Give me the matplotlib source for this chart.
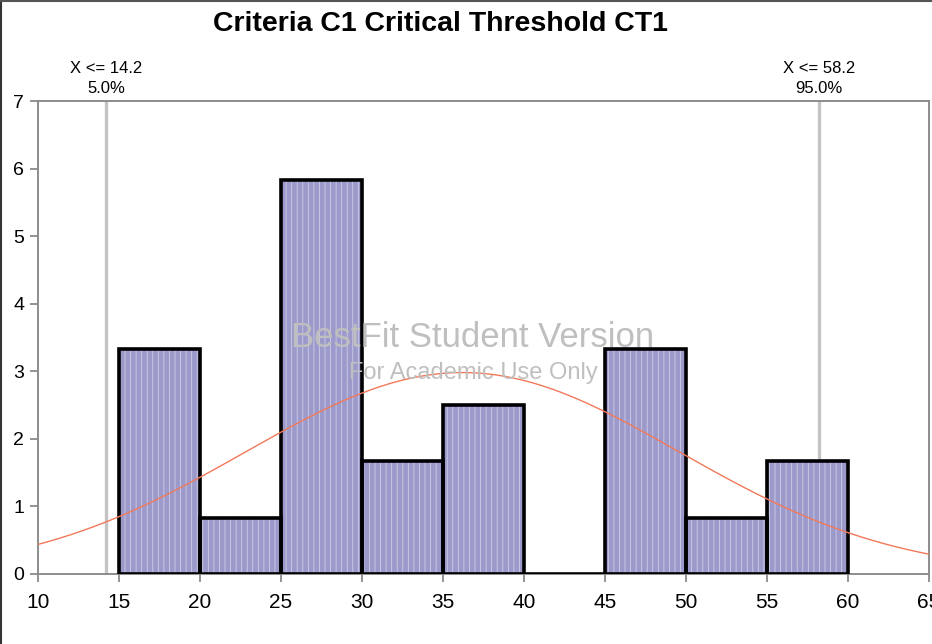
import numpy as np
import matplotlib
matplotlib.use("Agg")
import matplotlib.pyplot as plt
from matplotlib.lines import Line2D

# Histogram data (percent of observations per 5-unit bin)
bin_edges = [15, 20, 25, 30, 35, 40, 45, 50, 55, 60]
bin_heights = [3.33, 0.83, 5.83, 1.67, 2.5, 0.0, 3.33, 0.83, 1.67]

# Critical thresholds from the fitted normal
thresholds = [14.2, 58.2]
threshold_pcts = ["5.0%", "95.0%"]

x_ticks = [10, 15, 20, 25, 30, 35, 40, 45, 50, 55, 60, 65]
y_ticks = [0, 1, 2, 3, 4, 5, 6, 7]

title = "Criteria C1 Critical Threshold CT1"

narrow = ["Liberation Sans Narrow", "Liberation Sans", "DejaVu Sans"]
regular = ["Liberation Sans", "DejaVu Sans"]

plt.rcParams["hatch.linewidth"] = 0.6

fig = plt.figure(figsize=(9.32, 6.44), dpi=100)
ax = fig.add_axes([38 / 932, 1 - 574 / 644, (929 - 38) / 932, (574 - 101) / 644])

lefts = bin_edges[:-1]
widths = np.diff(bin_edges)

# striped fill
ax.bar(lefts, bin_heights, width=widths, align="edge", color="#9c9aca",
       edgecolor="#cfcee8", hatch="|||", linewidth=0, zorder=2)
# outlines
ax.bar(lefts, bin_heights, width=widths, align="edge", fill=False,
       edgecolor="black", linewidth=2.6, zorder=3)

# fitted normal curve (scaled to percent per unit * bin width)
mu = (thresholds[0] + thresholds[1]) / 2
sigma = (thresholds[1] - thresholds[0]) / (2 * 1.6449)
area = sum(bin_heights) * widths[0]
xs = np.linspace(10, 65, 400)
ys = area / (sigma * np.sqrt(2 * np.pi)) * np.exp(-0.5 * ((xs - mu) / sigma) ** 2)
ax.plot(xs, ys, color="#f2795a", linewidth=1.0, zorder=4)

# threshold lines and labels
for t, p in zip(thresholds, threshold_pcts):
    ax.axvline(t, color="#c4c4c4", linewidth=2.4, zorder=1.5)
    ax.text(t, 7.08, p, ha="center", va="bottom", fontsize=12,
            family=narrow, clip_on=False)
    ax.text(t, 7.37, f"X <= {t:.1f}", ha="center", va="bottom", fontsize=12,
            family=narrow, clip_on=False)

# watermark
ax.text(36.85, 3.5, "BestFit Student Version", ha="center", va="center",
        fontsize=25, color="#bfbfbf", family=regular, zorder=5)
ax.text(36.9, 2.98, "For Academic Use Only", ha="center", va="center",
        fontsize=17, color="#bfbfbf", family=regular, zorder=5)

ax.set_xlim(10, 65)
ax.set_ylim(0, 7)
ax.set_xticks(x_ticks)
ax.set_yticks(y_ticks)
ax.set_xticklabels([str(v) for v in x_ticks], family=narrow, fontsize=15)
ax.set_yticklabels([str(v) for v in y_ticks], family=regular, fontsize=14)
ax.tick_params(axis="both", direction="out", color="#808080", length=6, width=1.2)
ax.tick_params(axis="x", pad=8)
ax.tick_params(axis="y", pad=4)
for s in ax.spines.values():
    s.set_color("#8c8c8c")
    s.set_linewidth(1.4)

fig.text(440 / 932, 1 - 24 / 644, title, ha="center", va="center",
         fontsize=20.5, fontweight="bold", family=narrow)

# frame around the figure (left and top edges)
fig.add_artist(Line2D([0.0015, 0.0015], [0, 1], transform=fig.transFigure,
                      color="#333333", linewidth=1.5))
fig.add_artist(Line2D([0, 1], [0.998, 0.998], transform=fig.transFigure,
                      color="#555555", linewidth=1.5))

fig.savefig("out.png", dpi=100)
